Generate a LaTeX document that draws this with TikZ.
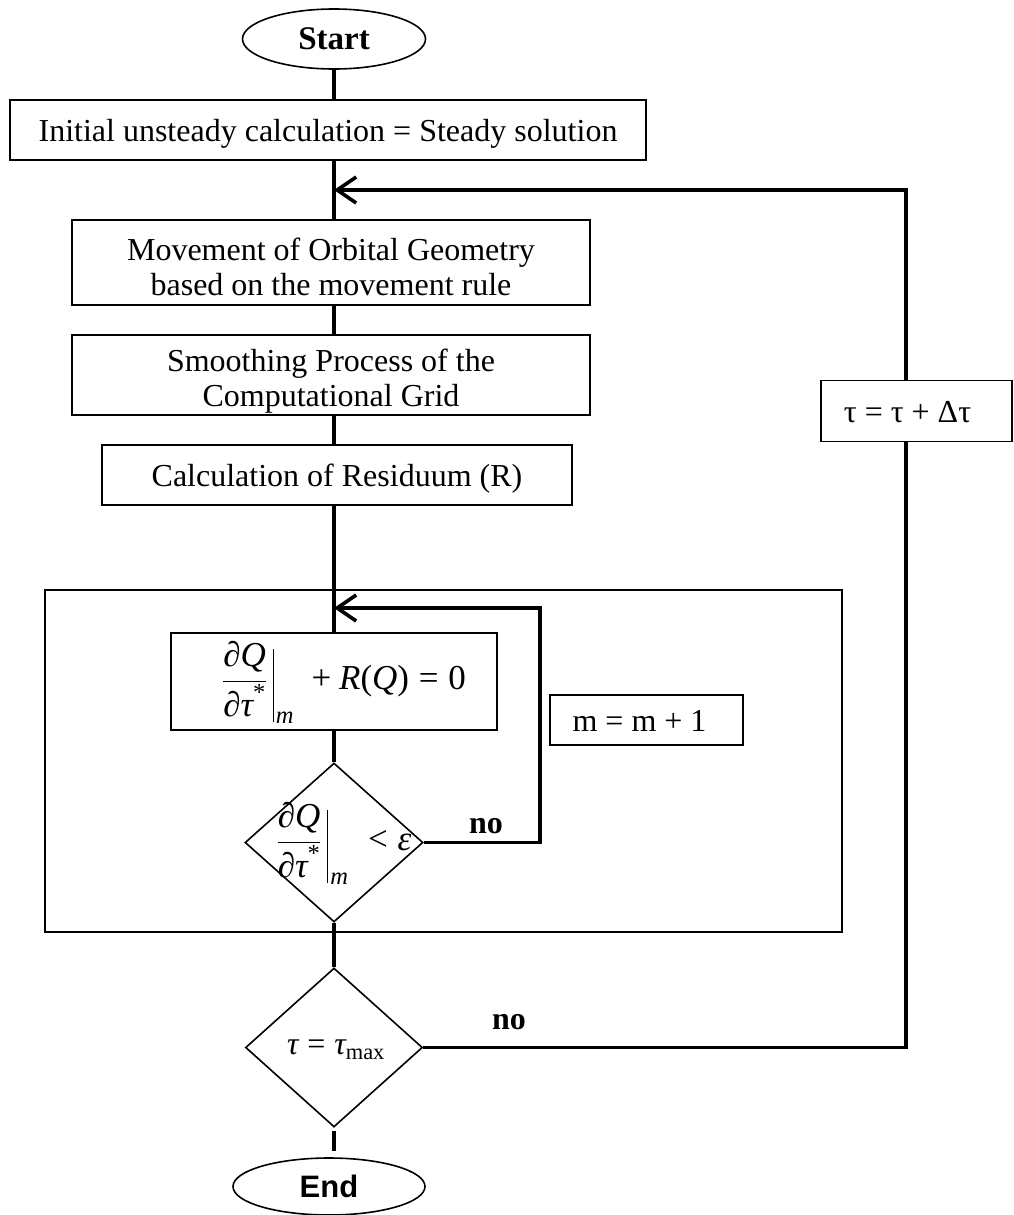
\documentclass[tikz,border=0pt]{standalone}
\usepackage{fix-cm}
\usepackage{amsmath}
\usepackage{fontspec}
\setmainfont{Liberation Serif}
\newfontfamily\sansfam{Liberation Sans}
\usetikzlibrary{shapes.geometric,arrows.meta}
% letters and signs taken from the text font
\newcommand\itx[1]{\text{\itshape #1}}
\newcommand\upx[1]{\text{#1}}
% evaluation bar after the derivative
\newcommand\evalbar{{\vrule height 41pt depth 32pt width 1pt}}
% derivative evaluated at iteration m
\newcommand\dQdt{\dfrac{\itx{∂Q}}{\itx{∂τ}^{\upx{*}}}\,\evalbar_{\kern2pt\itx{m}}}
\begin{document}
\begin{tikzpicture}[x=1pt,y=-1pt,
  every node/.style={font=\fontsize{32}{35}\selectfont},
  stepbox/.style={draw, line width=1.6pt, rectangle, inner sep=0pt, align=center},
  oneline/.style={stepbox, text height=26pt, text depth=4pt},
  terminal/.style={draw, line width=1.6pt, ellipse, inner sep=0pt},
  decision/.style={draw, line width=1.6pt, diamond, inner sep=0pt},
  lbl/.style={inner sep=0pt, align=center},
  mathbig/.style={font=\fontsize{35}{38}\selectfont},
  conn/.style={line width=3.6pt},
  loopback/.style={conn, -{Straight Barb[length=19pt,width=26pt,line width=3.6pt]}}]
\useasboundingbox (0,0) rectangle (1013,1215);

% frame around the inner iteration
\node[stepbox, minimum width=797pt, minimum height=342pt] (inner) at (443.5,761) {};

% main column
\node[terminal, minimum width=183pt, minimum height=60pt, text height=24pt, text depth=2pt,
      font=\fontsize{33}{36}\selectfont\bfseries] (start) at (334,39) {Start};
\node[oneline, minimum width=636pt, minimum height=60pt] (init) at (328,130)
  {Initial unsteady calculation = Steady solution};
\node[stepbox, minimum width=518pt, minimum height=85pt] (move) at (331,262.5) {};
\node[lbl] (movetext) at (331,267)
  {Movement of Orbital Geometry\\based on the movement rule};
\node[stepbox, minimum width=518pt, minimum height=80pt] (smooth) at (331,375) {};
\node[lbl] (smoothtext) at (331,381)
  {Smoothing Process of the\\Computational Grid};
\node[oneline, minimum width=470pt, minimum height=60pt] (resid) at (337,475)
  {Calculation of Residuum (R)};
\node[stepbox, minimum width=326pt, minimum height=97pt] (eq) at (334,681.5) {};
\node[lbl, mathbig] (eqtext) at (344,682)
  {$\dQdt\;\mathbin{\upx{+}} \itx{R}\upx{(}\itx{Q}\upx{)} \mathrel{\upx{=}} \upx{0}$};
\node[decision, minimum width=178pt, minimum height=159pt] (check) at (334,842.5) {};
\node[lbl, mathbig] (checktext) at (344,843)
  {$\dQdt\;\mathrel{\upx{<}} \itx{ε}$};
\node[decision, minimum width=177pt, minimum height=159pt] (final) at (334,1047.5) {};
\node[lbl] (finaltext) at (336,1050)
  {$\itx{τ} \mathrel{\upx{=}} \itx{τ}_{\upx{max}}$};
\node[terminal, minimum width=192pt, minimum height=57pt, text height=23pt, text depth=1pt,
      font=\fontsize{31}{36}\sansfam\bfseries] (end) at (329,1186.5) {End};

% side boxes
\node[oneline, minimum width=193pt, minimum height=50pt] (mstep) at (646.5,720)
  {m = m + 1\hspace*{14pt}};
\node[oneline, minimum width=191pt, minimum height=61pt] (tau) at (916.5,411)
  {τ = τ + Δτ\hspace*{18pt}};

% branch labels
\node[lbl, font=\fontsize{32}{36}\selectfont\bfseries] (no1) at (486,826) {no};
\node[lbl, font=\fontsize{32}{36}\selectfont\bfseries] (no2) at (509,1022) {no};

% turning points of the loops
\coordinate (j1) at (334,190);
\coordinate (r1) at (906,190);
\coordinate (r2) at (906,1047.5);
\coordinate (j2) at (334,608);
\coordinate (r4) at (540,608);
\coordinate (r3) at (540,842.5);
\coordinate (endtop) at ([yshift=6pt]end.north);

% main flow
\draw[conn] (start.south) -- (start.south |- init.north);
\draw[conn] (start.south |- init.south) -- (start.south |- move.north);
\draw[conn] (start.south |- move.south) -- (start.south |- smooth.north);
\draw[conn] (start.south |- smooth.south) -- (start.south |- resid.north);
\draw[conn] (start.south |- resid.south) -- (eq.north);
\draw[conn] (eq.south) -- (check.north);
\draw[conn] (check.south) -- (final.north);
\draw[conn] ([yshift=-3pt]final.south) -- (final.south |- endtop);

% inner iteration loop
\draw[loopback] (check.east) -- (r3) -- (r4) -- (j2);

% time-step loop
\draw[conn] (final.east) -- (r2) -- (r2 |- tau.south);
\draw[loopback] (r2 |- tau.north) -- (r1) -- (j1);
\end{tikzpicture}
\end{document}
